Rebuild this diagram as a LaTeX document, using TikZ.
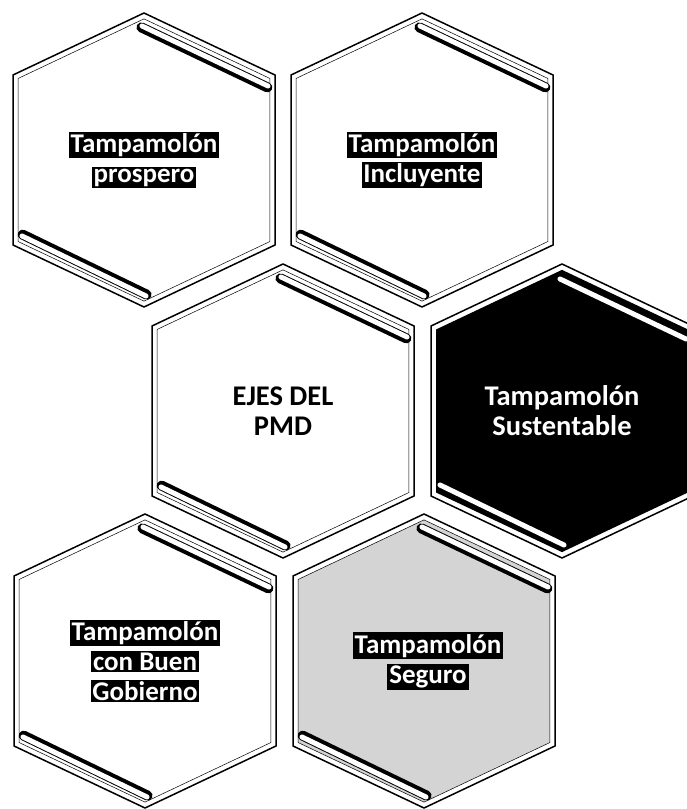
\documentclass[tikz,border=0pt]{standalone}
\usepackage{fontspec}
\setmainfont{Carlito}
\definecolor{hexspeckle}{RGB}{212,212,212}
\definecolor{hexdark}{RGB}{0,0,0}
\usetikzlibrary{positioning}

\setlength{\fboxsep}{1.8pt}
\newcommand{\hexword}[1]{\colorbox{black}{#1}}
\tikzset{
  hexouter/.style={draw=black,line width=1.5pt,line join=miter},
  hexinner/.style={draw=black,line width=0.5pt},
  barshadow/.style={line width=10pt,line cap=round,black},
  barlight/.style={line width=5pt,line cap=round,white},
  barwhite/.style={line width=5pt,line cap=round,white},
  outlabel/.style={font=\fontsize{27}{30}\selectfont\bfseries,text=white,align=center},
  plainlabel/.style={font=\fontsize{28.5}{30}\selectfont\bfseries,align=center}
}
\newcommand{\hexpath}{(0,147) -- (131,85) -- (131,-85) -- (0,-147) -- (-131,-85) -- (-131,85) -- cycle}
\newcommand{\hexbars}{%
  \draw[barshadow] (-2.6,132.6) -- (123.4,72.6);
  \draw[barlight] (-2,134) -- (124,74);
  \draw[barshadow] (-121.4,-74.6) -- (2.6,-134.6);
  \draw[barlight] (-122,-76) -- (2,-136);}

\begin{document}
\begin{tikzpicture}[x=1pt,y=1pt]
  \useasboundingbox (0,0) rectangle (686,809);

  %% Top row: prospero and Incluyente
  \begin{scope}[shift={(144,649)}]
    \draw[hexouter,fill=white] \hexpath;
    \draw[hexinner,scale=0.96] \hexpath;
    \hexbars
    \node[outlabel] (prospero) at (0,0) {\hexword{Tampamolón}\\\hexword{prospero}};
  \end{scope}
  \begin{scope}[shift={(422,649)}]
    \draw[hexouter,fill=white] \hexpath;
    \draw[hexinner,scale=0.96] \hexpath;
    \hexbars
    \node[outlabel] (incluyente) at (0,0) {\hexword{Tampamolón}\\\hexword{Incluyente}};
  \end{scope}

  %% Middle row: EJES DEL PMD and Sustentable
  \begin{scope}[shift={(283,398)}]
    \draw[hexouter,fill=white] \hexpath;
    \draw[hexinner,scale=0.96] \hexpath;
    \hexbars
    \node[plainlabel] (ejes) at (0,0) {EJES DEL\\PMD};
  \end{scope}
  \begin{scope}[shift={(562,398)}]
    \draw[hexouter,fill=white] \hexpath;
    \fill[hexdark,scale=0.96] \hexpath;
    \draw[barwhite] (-2,132) -- (124,72);
    \draw[barwhite] (-122,-74) -- (2,-134);
    \node[plainlabel,text=white] (sustentable) at (0,0) {Tampamolón\\Sustentable};
  \end{scope}

  %% Bottom row: Buen Gobierno and Seguro
  \begin{scope}[shift={(145,148)}]
    \draw[hexouter,fill=white] \hexpath;
    \draw[hexinner,scale=0.96] \hexpath;
    \hexbars
    \node[outlabel] (gobierno) at (0,0) {\hexword{Tampamolón}\\\hexword{con Buen}\\\hexword{Gobierno}};
  \end{scope}
  \begin{scope}[shift={(424,148)}]
    \draw[hexouter,fill=white] \hexpath;
    \fill[hexspeckle,scale=0.96] \hexpath;
    \draw[hexinner,scale=0.96] \hexpath;
    \hexbars
    \node[outlabel] (seguro) at (4,0) {\hexword{Tampamolón}\\\hexword{Seguro}};
  \end{scope}
\end{tikzpicture}
\end{document}
